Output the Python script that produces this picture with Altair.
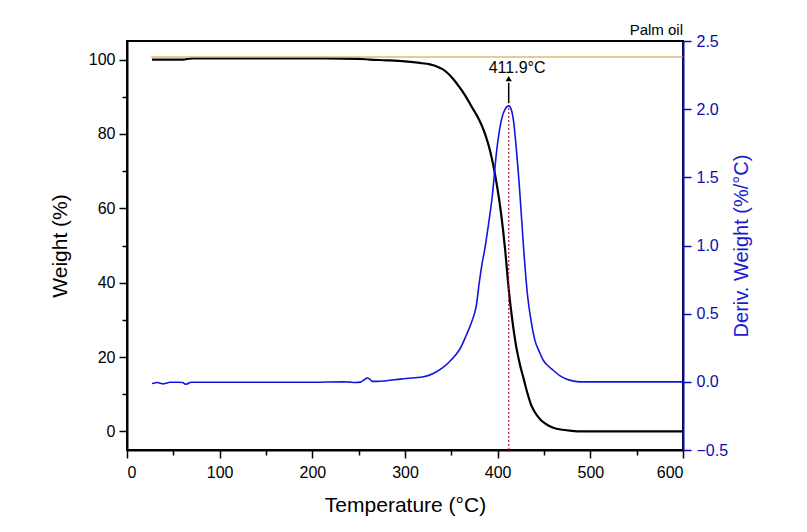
import altair as alt
import pandas as pd

# TGA weight curve (Temperature °C, Weight %)
temp_w = [27, 40, 60, 70, 100, 150, 200, 250, 262, 280, 300, 316, 327, 335, 340, 345, 352, 359, 365, 372, 380,
          386, 392, 398, 404, 408, 412, 416, 420, 424, 428, 432, 436, 440, 446, 452, 460, 470, 480, 490, 520, 560, 600]
weight = [100.0, 100.0, 100.0, 100.3, 100.3, 100.3, 100.3, 100.2, 100.0, 99.8, 99.5, 99.1, 98.7, 98.1, 97.5, 96.6, 94.8, 92.5, 90.3, 87.3, 83.8,
          80.3, 75.3, 68.0, 58.0, 49.0, 38.0, 29.5, 22.8, 18.0, 14.2, 10.4, 7.2, 5.2, 3.2, 2.0, 1.0, 0.45, 0.15, 0.0, 0.0, 0.0, 0.0]

# DTG curve (Temperature °C, Deriv. Weight %/°C)
temp_d = [27, 30, 33, 36, 39, 43, 46, 55, 60, 63, 65, 67, 70, 100, 150, 200, 233, 240, 246, 252, 256, 259, 262, 265,
          270, 280, 295, 310, 320, 330, 340, 348, 355, 360, 366, 372, 377, 380, 383, 386, 390, 394, 399, 404, 408, 412,
          415, 417, 420, 424, 428, 432, 436, 440, 445, 449, 454, 460, 467, 474, 482, 489, 520, 600]
deriv = [-0.012, -0.008, -0.005, -0.01, -0.015, -0.008, -0.003, -0.003, -0.005, -0.017, -0.016, -0.006, -0.003, -0.003, -0.003, -0.003, 0.0, -0.002, -0.005, -0.002, 0.015, 0.028, 0.02, 0.003,
         0.003, 0.008, 0.02, 0.03, 0.037, 0.06, 0.1, 0.147, 0.2, 0.25, 0.34, 0.44, 0.56, 0.72, 0.86, 0.97, 1.15, 1.35, 1.70, 1.92, 2.0, 2.024,
         1.99, 1.92, 1.72, 1.38, 0.98, 0.65, 0.45, 0.31, 0.22, 0.16, 0.12, 0.085, 0.045, 0.02, 0.005, 0.0, 0.0, 0.0]

# Reference line (orange) and annotation
ref_temp = [26, 600]
ref_weight = [100.7, 100.7]
peak_temp = 411.9
peak_deriv = 2.024
peak_label = "411.9°C"
sample_label = "Palm oil"

BLUE_LINE = "#1414e0"
BLUE_AXIS = "#0c0cb0"
FONT = "Liberation Sans"

df_w = pd.DataFrame({"t": temp_w, "w": weight})
df_ref = pd.DataFrame({"t": ref_temp, "w": ref_weight})
df_d = pd.DataFrame({"t": temp_d, "d": deriv})
df_vline = pd.DataFrame({"t": [peak_temp], "d": [-0.5], "d2": [peak_deriv]})
df_arrow = pd.DataFrame({"t": [peak_temp], "d": [peak_deriv + 0.02], "d2": [peak_deriv + 0.17]})
df_head = pd.DataFrame({"t": [peak_temp], "d": [peak_deriv + 0.2]})
df_label = pd.DataFrame({"t": [421.0], "d": [2.30], "txt": [peak_label]})

x_enc = alt.X(
    "t:Q",
    scale=alt.Scale(domain=[0, 600], nice=False),
    axis=alt.Axis(
        title="Temperature (°C)",
        values=list(range(0, 601, 50)),
        labelExpr="datum.value % 100 === 0 ? datum.label : ''",
        tickSize={"expr": "datum.value % 100 === 0 ? 8 : 5"},
        grid=False,
        domainColor="black", domainWidth=2, tickColor="black", tickWidth=1.5,
        labelFontSize=16, labelPadding=6, titleFontSize=21, titleFontWeight="normal", titlePadding=14,
        labelColor="black", titleColor="black",
    ),
)

y_left = alt.Y(
    "w:Q",
    scale=alt.Scale(domain=[-5, 105], nice=False, zero=False),
    axis=alt.Axis(
        title="Weight (%)", orient="left",
        values=list(range(0, 101, 10)),
        labelExpr="datum.value % 20 === 0 ? datum.label : ''",
        tickSize={"expr": "datum.value % 20 === 0 ? 8 : 5"},
        grid=False,
        domainColor="black", domainWidth=2, tickColor="black", tickWidth=1.5,
        labelFontSize=16, labelPadding=4, titleFontSize=21, titleFontWeight="normal", titlePadding=18,
        labelColor="black", titleColor="black",
    ),
)

right_vals = [-0.5 + 0.25 * i for i in range(13)]
y_right = alt.Y(
    "d:Q",
    scale=alt.Scale(domain=[-0.5, 2.5], nice=False, zero=False),
    axis=alt.Axis(
        title="Deriv. Weight (%/°C)", orient="right",
        values=right_vals,
        format=".1f",
        labelExpr="abs(datum.value*2 - round(datum.value*2)) < 0.001 ? datum.label : ''",
        tickSize={"expr": "abs(datum.value*2 - round(datum.value*2)) < 0.001 ? 8 : 5"},
        grid=False,
        domainColor=BLUE_AXIS, domainWidth=2, tickColor=BLUE_AXIS, tickWidth=1.5,
        labelColor=BLUE_AXIS, titleColor="#1a1ad0",
        labelFontSize=16, labelPadding=5, titleFontSize=20, titleFontWeight="normal", titlePadding=24,
        titleAngle=270,
    ),
)

tga = alt.Chart(df_w).mark_line(color="black", strokeWidth=2.2, interpolate="monotone").encode(x=x_enc, y=y_left)
ref = alt.Chart(df_ref).mark_line(color="#e09030", strokeWidth=1.2).encode(x="t:Q", y="w:Q")
left_layer = alt.layer(tga, ref)

dtg = alt.Chart(df_d).mark_line(color=BLUE_LINE, strokeWidth=1.6, interpolate="monotone").encode(x="t:Q", y=y_right)
vline = alt.Chart(df_vline).mark_rule(color="#cc1133", strokeWidth=1.2, strokeDash=[2, 2]).encode(
    x="t:Q", y="d:Q", y2="d2:Q")
arrow = alt.Chart(df_arrow).mark_rule(color="black", strokeWidth=1.5).encode(x="t:Q", y="d:Q", y2="d2:Q")
head = alt.Chart(df_head).mark_point(shape="triangle-up", filled=True, color="black", size=40, opacity=1).encode(
    x="t:Q", y="d:Q")
label = alt.Chart(df_label).mark_text(fontSize=16, color="black", font=FONT).encode(
    x="t:Q", y="d:Q", text="txt:N")
palm = alt.Chart(pd.DataFrame({"txt": [sample_label]})).mark_text(
    fontSize=15, color="black", align="right", baseline="alphabetic", font=FONT
).encode(x=alt.value(556), y=alt.value(-6), text="txt:N")
right_layer = alt.layer(dtg, vline, arrow, head, label, palm)

chart = alt.layer(left_layer, right_layer).resolve_scale(y="independent").properties(
    width=556, height=409,
    autosize=alt.AutoSizeParams(type="none"),
    padding={"left": 119, "top": 33, "right": 116, "bottom": 66},
).configure(font=FONT).configure_view(stroke="black", strokeWidth=2)

chart.save("out.html", embed_options={"renderer": "svg", "actions": False})
